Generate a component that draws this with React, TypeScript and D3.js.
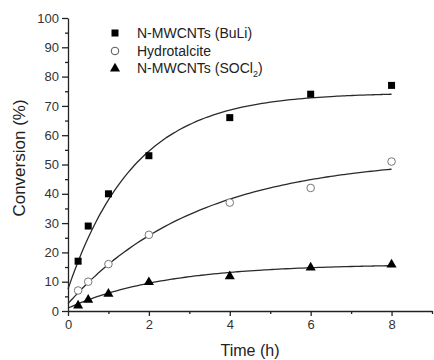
import React, { useEffect, useRef } from "react";
import * as d3 from "d3";

// measured points, time in hours
const times = [0.25, 0.5, 1, 2, 4, 6, 8];
const buli = [17, 29, 40, 53, 66, 74, 77];
const hydrotalcite = [7, 10, 16, 26, 37, 42, 51];
const socl2 = [2, 4, 6, 10, 12, 15, 16];

// fitted curves y = y0 + A * (1 - exp(-t / tau))
const fitY0 = [7.5, 2.5, 1];
const fitA = [67, 50, 15];
const fitTau = [1.65, 3.2, 2.4];

const xTicks = [0, 2, 4, 6, 8];
const yTicks = [0, 10, 20, 30, 40, 50, 60, 70, 80, 90, 100];

const W = 434;
const H = 360;
const margin = { left: 68, right: 2, top: 18, bottom: 49 };
const FONT = "Arial, 'Liberation Sans', sans-serif";
const INK = "#222";

function Chart() {
  const svgRef = useRef<SVGSVGElement>(null);

  useEffect(() => {
    const svg = d3.select(svgRef.current);
    svg.selectAll("*").remove();

    const x = d3.scaleLinear().domain([0, 9]).range([margin.left, W - margin.right]);
    const y = d3.scaleLinear().domain([0, 100]).range([H - margin.bottom, margin.top]);

    // axes
    const xAxis = svg
      .append("g")
      .attr("transform", `translate(0, ${y(0)})`)
      .call(d3.axisBottom(x).tickValues(xTicks).tickSize(5).tickSizeOuter(0).tickPadding(4));
    svg
      .append("g")
      .attr("transform", `translate(0, ${y(0)})`)
      .call(d3.axisBottom(x).tickValues([1, 3, 5, 7, 9]).tickSize(3).tickFormat(() => ""))
      .select(".domain")
      .remove();

    const yAxis = svg
      .append("g")
      .attr("transform", `translate(${x(0)}, 0)`)
      .call(d3.axisLeft(y).tickValues(yTicks).tickSize(6).tickSizeOuter(0).tickPadding(3));
    svg
      .append("g")
      .attr("transform", `translate(${x(0)}, 0)`)
      .call(d3.axisLeft(y).tickValues(d3.range(5, 100, 10)).tickSize(3).tickFormat(() => ""))
      .select(".domain")
      .remove();

    svg.selectAll(".domain, .tick line").attr("stroke", INK).attr("stroke-width", 1.3);
    [xAxis, yAxis].forEach(a =>
      a.selectAll("text").attr("font-family", FONT).attr("font-size", 13).attr("fill", "#333")
    );

    // fitted curves
    const line = d3
      .line<[number, number]>()
      .x(d => x(d[0]))
      .y(d => y(d[1]))
      .curve(d3.curveBasis);
    const tSamples = d3.range(0, 8.001, 0.1);
    fitY0.forEach((y0, i) => {
      const pts: [number, number][] = tSamples.map(t => [
        t,
        y0 + fitA[i] * (1 - Math.exp(-t / fitTau[i]))
      ]);
      svg
        .append("path")
        .attr("d", line(pts))
        .attr("fill", "none")
        .attr("stroke", "#2a2a2a")
        .attr("stroke-width", 1.3);
    });

    // markers
    const pts = svg.append("g");
    pts
      .selectAll("rect")
      .data(buli)
      .enter()
      .append("rect")
      .attr("x", (d, i) => x(times[i]) - 3.5)
      .attr("y", d => y(d) - 3.5)
      .attr("width", 7)
      .attr("height", 7)
      .attr("fill", "#000");
    pts
      .selectAll("circle")
      .data(hydrotalcite)
      .enter()
      .append("circle")
      .attr("cx", (d, i) => x(times[i]))
      .attr("cy", d => y(d))
      .attr("r", 3.8)
      .attr("fill", "#fff")
      .attr("stroke", "#777")
      .attr("stroke-width", 1);
    const tri = d3.symbol().type(d3.symbolTriangle).size(44);
    pts
      .selectAll("path.tri")
      .data(socl2)
      .enter()
      .append("path")
      .attr("class", "tri")
      .attr("d", tri)
      .attr("transform", (d, i) => `translate(${x(times[i])}, ${y(d) + 0.5})`)
      .attr("fill", "#000");

    // legend
    const lg = svg.append("g").attr("font-family", FONT).attr("font-size", 14).attr("fill", "#222");
    lg.append("rect").attr("x", 111.5).attr("y", 29.5).attr("width", 7).attr("height", 7).attr("fill", "#000");
    lg.append("circle").attr("cx", 115).attr("cy", 51).attr("r", 3.8).attr("fill", "#fff").attr("stroke", "#555");
    lg.append("path").attr("d", tri).attr("transform", "translate(115, 68.5)").attr("fill", "#000");
    lg.append("text").attr("x", 137).attr("y", 38).text("N-MWCNTs (BuLi)");
    lg.append("text").attr("x", 137).attr("y", 56).text("Hydrotalcite");
    const t3 = lg.append("text").attr("x", 137).attr("y", 73);
    t3.append("tspan").text("N-MWCNTs (SOCl");
    t3.append("tspan").attr("font-size", 9).attr("dy", 4).text("2");
    t3.append("tspan").attr("dy", -4).text(")");

    // titles
    svg
      .append("text")
      .attr("x", (x(0) + x(9)) / 2)
      .attr("y", 356)
      .attr("text-anchor", "middle")
      .attr("font-family", FONT)
      .attr("font-size", 16)
      .attr("fill", "#222")
      .text("Time (h)");
    svg
      .append("text")
      .attr("transform", `translate(25, 158) rotate(-90)`)
      .attr("text-anchor", "middle")
      .attr("font-family", FONT)
      .attr("font-size", 17)
      .attr("fill", "#222")
      .text("Conversion (%)");
  }, []);

  return (
    <svg
      ref={svgRef}
      width={W}
      height={H}
      style={{ position: "absolute", left: 0, top: 0, background: "#fff" }}
    />
  );
}

export default function App() {
  return <Chart />;
}
